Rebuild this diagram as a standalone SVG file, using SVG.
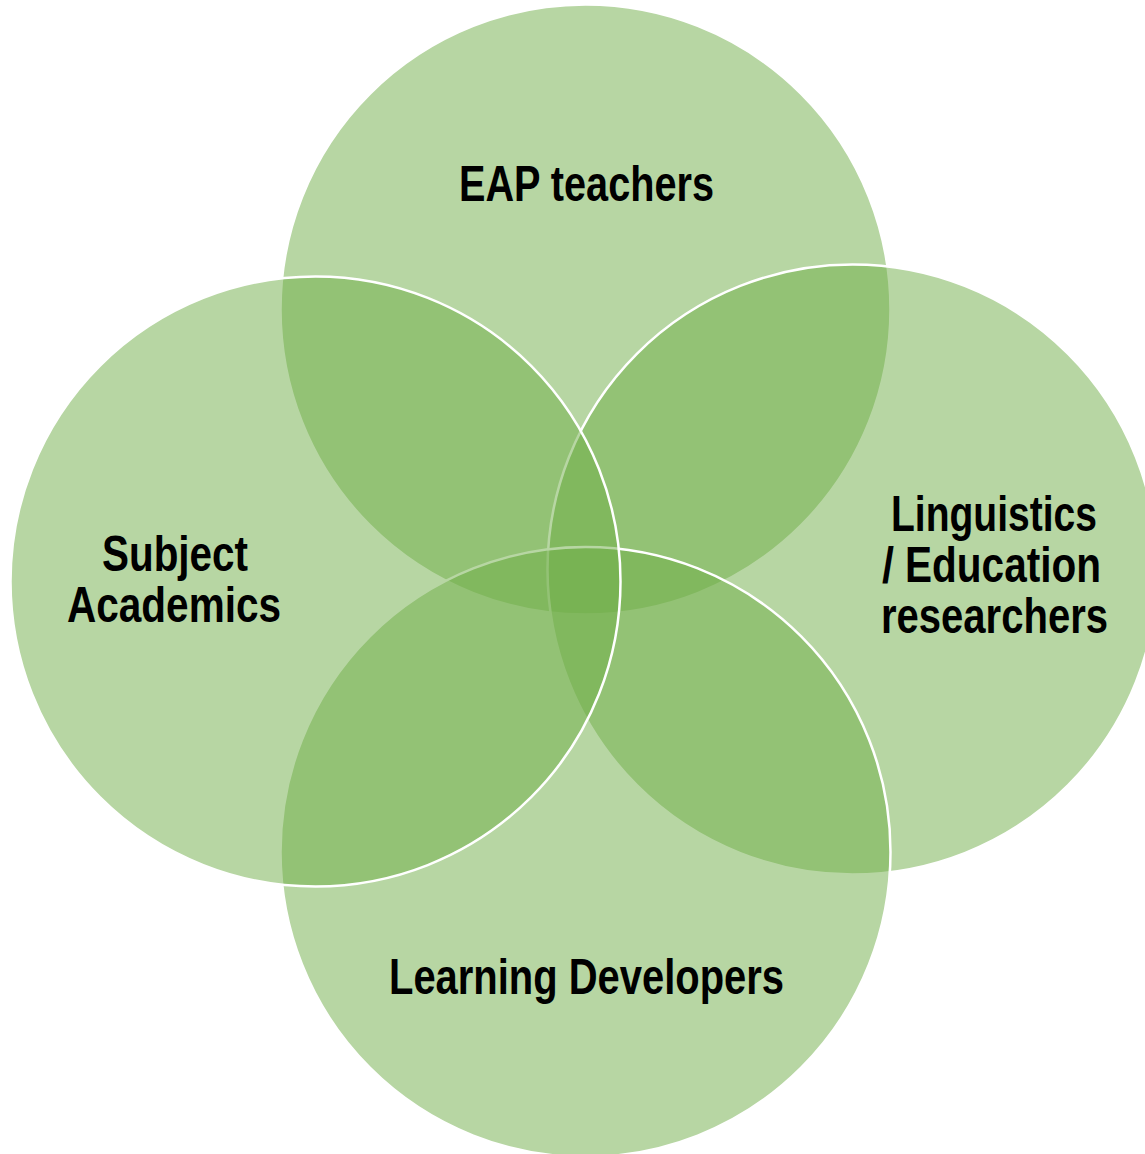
<svg xmlns="http://www.w3.org/2000/svg" width="1145" height="1154" viewBox="0 0 1145 1154">
  <style>
    .ring { fill: #70AD47; fill-opacity: 0.5; stroke: #FFFFFF; stroke-width: 2.5; }
    .label { font-family: "Liberation Sans", Arial, sans-serif; font-weight: bold; font-size: 50px; fill: #000000; }
  </style>
  <rect x="0" y="0" width="1145" height="1154" fill="#FFFFFF"/>

  <!-- circles drawn top, right, bottom, left so overlaps stack the same way -->
  <g id="node-eap">
    <circle class="ring" cx="585.5" cy="309.5" r="305"/>
    <text class="label" x="459" y="201" textLength="255" lengthAdjust="spacingAndGlyphs">EAP teachers</text>
  </g>
  <g id="node-linguistics">
    <circle class="ring" cx="852.5" cy="569.5" r="305"/>
    <text class="label" x="891" y="531" textLength="206" lengthAdjust="spacingAndGlyphs">Linguistics</text>
    <text class="label" x="882" y="582"><tspan textLength="12" lengthAdjust="spacingAndGlyphs">/</tspan><tspan x="905" textLength="196" lengthAdjust="spacingAndGlyphs">Education</tspan></text>
    <text class="label" x="881" y="633" textLength="227" lengthAdjust="spacingAndGlyphs">researchers</text>
  </g>
  <g id="node-learning">
    <circle class="ring" cx="585.5" cy="852" r="305"/>
    <text class="label" x="389" y="994" textLength="395" lengthAdjust="spacingAndGlyphs">Learning Developers</text>
  </g>
  <g id="node-subject">
    <circle class="ring" cx="315.5" cy="581.5" r="305"/>
    <text class="label" x="102" y="571" textLength="146" lengthAdjust="spacingAndGlyphs">Subject</text>
    <text class="label" x="67" y="622" textLength="214" lengthAdjust="spacingAndGlyphs">Academics</text>
  </g>

  <!-- no connectors in this diagram -->
  <g id="connectors"/>
</svg>
